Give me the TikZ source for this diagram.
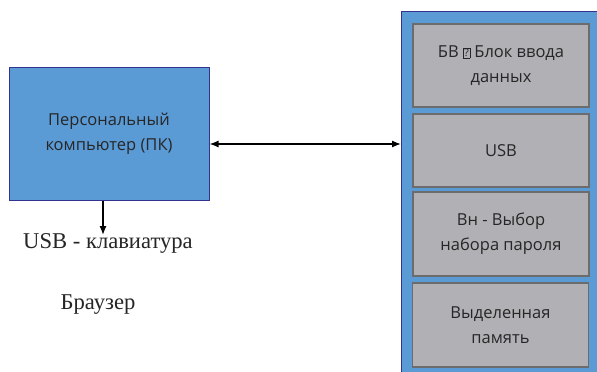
\documentclass[tikz,border=0pt]{standalone}
\usepackage{fontspec}
\usetikzlibrary{arrows.meta}
\setmainfont{Liberation Serif}
\newfontfamily\boxfont{Open Sans}
\tikzset{
  bluebox/.style={draw=blue!45!black!80, fill=pcblue, line width=1pt},
  graybox/.style={draw=gray!85!black, fill=boxgray, line width=1.5pt,
    minimum width=176pt, align=center, font=\boxfont\fontsize{16.5}{25}\selectfont,
    text=black!85},
  lbl/.style={font=\fontsize{22.6}{27}\selectfont, text=black!85},
  arr/.style={line width=1.3pt, >={Latex[length=9pt,width=7pt]}},
}
\definecolor{pcblue}{HTML}{5B9BD5}
\definecolor{boxgray}{HTML}{B1B1B5}
\newcommand{\qbox}{{\setlength{\fboxsep}{0.8pt}\setlength{\fboxrule}{0.5pt}%
  \raisebox{0.5pt}{\fbox{\fontsize{10.5}{10.5}\selectfont ?}}}}
\begin{document}
\begin{tikzpicture}[x=1pt,y=-1pt] %% pixel coordinates, y down
  \useasboundingbox[fill=white] (0,0) rectangle (597,372);
  %% left part
  \node[bluebox, minimum width=200pt, minimum height=133pt, align=center,
    font=\boxfont\fontsize{16.5}{25}\selectfont, text=black!85]
    (pc) at (109,133.5) {Персональный\\компьютер (ПК)};
  \node[lbl] (kbd) at (108,243) {USB - клавиатура};
  \node[lbl] (br) at (98,305) {Браузер};
  %% right part
  \draw[bluebox] (401,11) rectangle (610,385);
  \coordinate (outer) at (401,144);
  \node[graybox, minimum height=83pt] (blk) at (501,65.5)
    {БВ \qbox{} Блок ввода\\данных};
  \node[graybox, minimum height=73pt] (usb) at (501,150.5) {USB};
  \node[graybox, minimum height=84pt] (pwd) at (501,234) {Вн - Выбор\\набора пароля};
  \node[graybox, minimum height=84pt] (mem) at (500.5,325) {Выделенная\\память};
  %% connectors
  \draw[arr, <->] (pc.east |- outer) -- (outer);
  \coordinate (d) at (103,235);
  \draw[arr, ->] (pc.south -| d) -- (d);
\end{tikzpicture}
\end{document}
